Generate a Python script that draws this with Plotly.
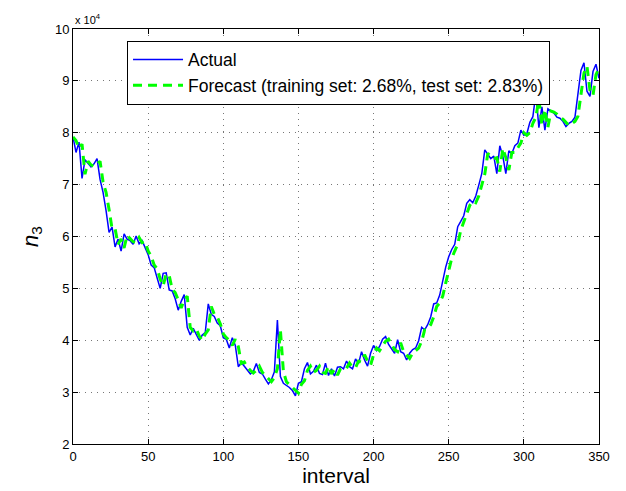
import plotly.graph_objects as go

interval = list(range(0, 351, 2))

actual = [
    7.92, 7.62, 7.82, 7.12, 7.48, 7.40, 7.34, 7.40, 7.50, 7.10,
    6.85, 6.50, 6.08, 6.18, 5.80, 5.95, 5.72, 6.05, 5.95, 5.92,
    5.85, 6.01, 5.86, 5.92, 5.80, 5.65, 5.45, 5.40, 5.20, 5.00,
    5.29, 5.30, 4.97, 4.95, 4.80, 4.58, 4.75, 4.88, 4.25, 4.10,
    4.23, 4.10, 4.00, 4.10, 4.15, 4.70, 4.50, 4.46, 4.33, 4.28,
    4.05, 4.02, 3.85, 4.05, 3.90, 3.49, 3.57, 3.50, 3.42, 3.35,
    3.40, 3.55, 3.38, 3.35, 3.25, 3.16, 3.24, 3.39, 4.39, 3.30,
    3.17, 3.13, 3.09, 3.03, 2.93, 3.17, 3.20, 3.45, 3.57, 3.35,
    3.40, 3.52, 3.36, 3.34, 3.56, 3.32, 3.45, 3.31, 3.48, 3.49,
    3.45, 3.60, 3.49, 3.45, 3.64, 3.55, 3.78, 3.62, 3.50, 3.75,
    3.90, 3.80, 3.88, 4.02, 4.07, 3.92, 3.84, 3.75, 4.01, 3.78,
    3.75, 3.62, 3.75, 3.82, 3.85, 3.99, 4.25, 4.20, 4.30, 4.45,
    4.70, 4.72, 4.87, 5.16, 5.41, 5.61, 5.75, 5.85, 6.19, 6.29,
    6.40, 6.64, 6.71, 6.65, 6.78, 6.99, 7.21, 7.67, 7.58, 7.50,
    7.55, 7.21, 7.75, 7.55, 7.21, 7.65, 7.60, 7.75, 7.80, 8.05,
    7.95, 7.98, 8.20, 8.31, 8.76, 8.10, 8.50, 8.05, 8.46, 8.42,
    8.38, 8.30, 8.28, 8.22, 8.12, 8.18, 8.22, 8.30, 8.74, 9.20,
    9.35, 8.80, 8.70, 9.18, 9.32, 9.05,
]

forecast = [
    7.92, 7.85, 7.70, 7.78, 7.20, 7.45, 7.38, 7.35, 7.40, 7.45,
    7.05, 6.85, 6.52, 6.15, 6.15, 5.85, 5.95, 5.78, 6.02, 5.95,
    5.90, 5.88, 5.98, 5.88, 5.90, 5.72, 5.62, 5.45, 5.38, 5.18,
    5.05, 5.28, 5.25, 4.98, 4.92, 4.78, 4.62, 4.78, 4.85, 4.25,
    4.18, 4.22, 4.08, 4.00, 4.12, 4.20, 4.65, 4.50, 4.45, 4.32,
    4.12, 4.05, 4.00, 3.90, 4.02, 3.88, 3.55, 3.58, 3.48, 3.42,
    3.37, 3.42, 3.50, 3.38, 3.32, 3.25, 3.20, 3.28, 3.45, 4.20,
    3.40, 3.20, 3.14, 3.10, 3.04, 2.98, 3.15, 3.22, 3.42, 3.50,
    3.38, 3.42, 3.50, 3.38, 3.36, 3.50, 3.35, 3.44, 3.33, 3.45,
    3.48, 3.46, 3.56, 3.48, 3.47, 3.60, 3.58, 3.72, 3.60, 3.52,
    3.72, 3.85, 3.80, 3.88, 3.98, 4.02, 3.92, 3.82, 3.78, 3.95,
    3.78, 3.72, 3.65, 3.75, 3.80, 3.85, 3.98, 4.20, 4.22, 4.30,
    4.45, 4.65, 4.72, 4.85, 5.10, 5.35, 5.58, 5.72, 5.85, 6.12,
    6.28, 6.40, 6.60, 6.68, 6.65, 6.78, 6.98, 7.20, 7.60, 7.55,
    7.50, 7.52, 7.25, 7.70, 7.52, 7.28, 7.62, 7.62, 7.72, 7.80,
    8.00, 7.95, 8.00, 8.18, 8.30, 8.65, 8.15, 8.45, 8.10, 8.42,
    8.40, 8.36, 8.30, 8.26, 8.20, 8.14, 8.18, 8.22, 8.32, 8.70,
    9.15, 9.28, 8.82, 8.72, 9.12, 9.25,
]

x_ticks = [0, 50, 100, 150, 200, 250, 300, 350]
y_ticks = [2, 3, 4, 5, 6, 7, 8, 9, 10]

FONT = "Liberation Sans, Arial, sans-serif"

fig = go.Figure()
fig.add_trace(go.Scatter(
    x=interval, y=actual, mode="lines", name="Actual",
    line=dict(color="#0000ff", width=1.5),
))
fig.add_trace(go.Scatter(
    x=interval, y=forecast, mode="lines",
    name="Forecast (training set: 2.68%, test set: 2.83%)",
    line=dict(color="#00ff00", width=3, dash="9px,6px"),
))

axis_common = dict(
    showline=True, linecolor="black", linewidth=1, mirror="ticks",
    ticks="inside", ticklen=5, tickcolor="black", tickwidth=1,
    showgrid=True, gridcolor="#777777", gridwidth=1, griddash="1px,5px",
    zeroline=False, automargin=False,
    tickfont=dict(family=FONT, size=13, color="black"),
)

fig.update_layout(
    width=626, height=491,
    margin=dict(l=73, r=27, t=29, b=47),
    paper_bgcolor="white", plot_bgcolor="white",
    font=dict(family=FONT, color="black"),
    xaxis=dict(range=[0, 350], tickvals=x_ticks,
               title=dict(text="interval", font=dict(family=FONT, size=21), standoff=4),
               **axis_common),
    yaxis=dict(range=[2, 10], tickvals=y_ticks,
               title=dict(text="<i>n</i><sub>3</sub>", font=dict(family=FONT, size=22), standoff=10),
               **axis_common),
    legend=dict(x=0.1027, y=0.972, xanchor="left", yanchor="top",
                bgcolor="white", bordercolor="black", borderwidth=1,
                font=dict(family=FONT, size=17.5), tracegroupgap=0,
                itemwidth=50),
    showlegend=True,
)

fig.add_annotation(
    text="x 10<sup>4</sup>", xref="paper", yref="paper", x=0.0, y=1.0,
    xanchor="left", yanchor="bottom", showarrow=False,
    font=dict(family=FONT, size=11, color="black"), yshift=1,
)

fig.write_html("out.html")
